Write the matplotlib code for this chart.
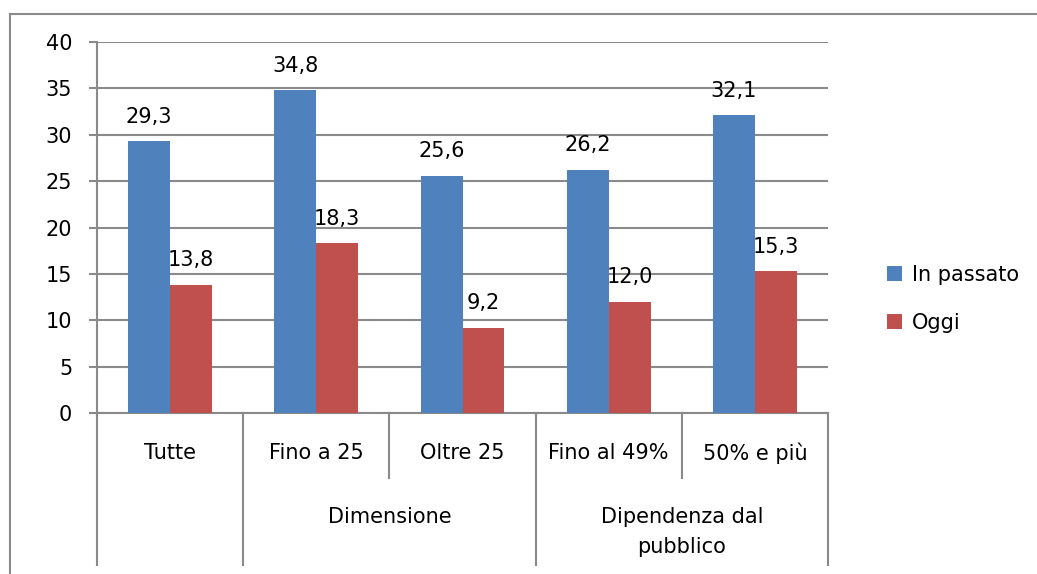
import numpy as np
import matplotlib.pyplot as plt
from matplotlib.lines import Line2D

categories = ['Tutte', 'Fino a 25', 'Oltre 25', 'Fino al 49%', '50% e più']
groups = ['', 'Dimensione', 'Dipendenza dal\npubblico']
group_spans = [(0, 0), (1, 2), (3, 4)]
in_passato = [29.3, 34.8, 25.6, 26.2, 32.1]
oggi = [13.8, 18.3, 9.2, 12.0, 15.3]
series_names = ['In passato', 'Oggi']
yticks = [0, 5, 10, 15, 20, 25, 30, 35, 40]

BLUE = '#4F81BD'
RED = '#C0504D'
GRID = '#8a8a8a'
FS = 15
plt.rcParams['font.family'] = ['DejaVu Sans']

fig = plt.figure(figsize=(10.37, 5.74), dpi=100)
ax = fig.add_axes([97 / 1037, 1 - 413 / 574, (828 - 97) / 1037, 371 / 574])

# outer chart frame (only left and top edges visible)
fig.add_artist(Line2D([10 / 1037, 10 / 1037], [0, 1 - 14 / 574], transform=fig.transFigure,
                      color=GRID, lw=1.5))
fig.add_artist(Line2D([10 / 1037, 1], [1 - 14 / 574, 1 - 14 / 574], transform=fig.transFigure,
                      color=GRID, lw=1.5))

x = np.arange(len(categories))
w = 0.287
b1 = ax.bar(x - w / 2, in_passato, w, color=BLUE, label=series_names[0], zorder=3)
b2 = ax.bar(x + w / 2, oggi, w, color=RED, label=series_names[1], zorder=3)

for bars, vals in [(b1, in_passato), (b2, oggi)]:
    for bar, v in zip(bars, vals):
        ax.annotate(f'{v:.1f}'.replace('.', ','), (bar.get_x() + bar.get_width() / 2, v),
                    xytext=(0, 10.5), textcoords='offset points', ha='center', va='bottom',
                    fontsize=FS)

ax.set_xlim(-0.5, len(categories) - 0.5)
ax.set_ylim(0, 40)
ax.set_yticks(yticks)
ax.set_yticklabels([str(t) for t in yticks], fontsize=FS)
ax.tick_params(axis='y', length=5.8, width=1.5, color=GRID, pad=12)
ax.set_xticks([])
ax.yaxis.grid(True, color=GRID, lw=1.5, zorder=0)
ax.set_axisbelow(True)
for s in ['top', 'right']:
    ax.spines[s].set_visible(False)
for s in ['left', 'bottom']:
    ax.spines[s].set_color(GRID)
    ax.spines[s].set_linewidth(1.5)

# multi-level category axis
trans = ax.get_xaxis_transform()
for xi, lab in zip(x, categories):
    ax.text(xi, -40 / 371, lab, transform=trans, ha='center', va='center', fontsize=FS)
long_seps = [-0.5] + [e + 0.5 for _, e in group_spans]
short_seps = [k + 0.5 for s, e in group_spans for k in range(s, e)]
for sx in long_seps:
    ax.add_line(Line2D([sx, sx], [0, -152 / 371], transform=trans, color=GRID, lw=1.5, clip_on=False))
for sx in short_seps:
    ax.add_line(Line2D([sx, sx], [0, -65 / 371], transform=trans, color=GRID, lw=1.5, clip_on=False))
for (s, e), g in zip(group_spans, groups):
    if g:
        ax.text((s + e) / 2, -94 / 371, g, transform=trans, ha='center', va='top',
                fontsize=FS, linespacing=1.6)

fig.legend(handles=[b1, b2], loc='center left', bbox_to_anchor=(868 / 1037, 1 - 299 / 574),
           frameon=False, fontsize=FS, handlelength=0.75, handleheight=0.75,
           labelspacing=1.35, handletextpad=0.45)

fig.savefig('out.png', dpi=100)
